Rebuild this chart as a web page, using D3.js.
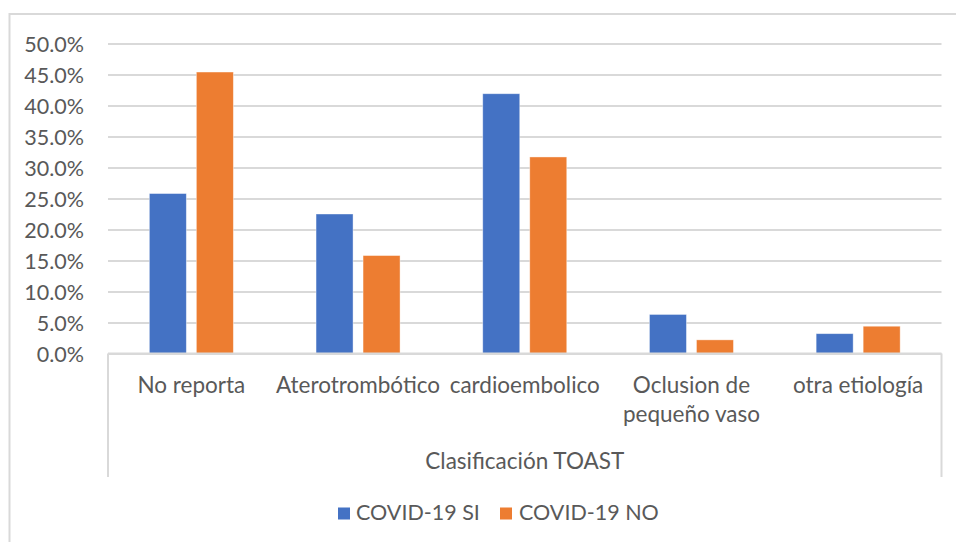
<!DOCTYPE html>
<html>
<head>
<meta charset="utf-8">
<script src="https://cdn.jsdelivr.net/npm/d3@7"></script>
<style>
  html, body { margin: 0; padding: 0; background: #fff; }
  svg { display: block; }
  text { font-family: Lato, "Open Sans", sans-serif; fill: #595959; }
</style>
</head>
<body>
<svg id="chart" width="956" height="542"></svg>
<script>
// Clasificación TOAST por estado COVID-19
const categories = ["No reporta", "Aterotrombótico", "cardioembolico", "Oclusion de pequeño vaso", "otra etiología"];
const categoryLines = [["No reporta"], ["Aterotrombótico"], ["cardioembolico"], ["Oclusion de", "pequeño vaso"], ["otra etiología"]];
const seriesNames = ["COVID-19 SI", "COVID-19 NO"];
const covidSi = [0.258, 0.225, 0.419, 0.063, 0.032];
const covidNo = [0.454, 0.158, 0.317, 0.022, 0.044];
const yTicks = [0, 0.05, 0.10, 0.15, 0.20, 0.25, 0.30, 0.35, 0.40, 0.45, 0.50];
const axisTitle = "Clasificación TOAST";
const colors = ["#4472C4", "#ED7D31"];

const svg = d3.select("#chart");
const tickFont = 21.5;
const labelFont = 22.5;
const plot = { left: 108, right: 941.5, top: 43.5, bottom: 353.5 };

// chart-area frame
svg.append("rect")
  .attr("x", 9.5).attr("y", 14)
  .attr("width", 1000).attr("height", 600)
  .attr("fill", "none").attr("stroke", "#d9d9d9").attr("stroke-width", 2);

const y = d3.scaleLinear().domain([0, 0.5]).range([plot.bottom, plot.top]);
const x0 = d3.scaleBand().domain(categories).range([plot.left, plot.right])
  .paddingInner(0.496).paddingOuter(0.248);
const x1 = d3.scaleBand().domain(seriesNames).range([0, x0.bandwidth()]).paddingInner(0.2128);

// gridlines + y tick labels
const yAxis = d3.axisLeft(y).tickValues(yTicks).tickFormat(d3.format(".1%"))
  .tickSize(-(plot.right - plot.left)).tickPadding(24);
const gy = svg.append("g").attr("transform", `translate(${plot.left},0)`).call(yAxis);
gy.select(".domain").remove();
gy.selectAll(".tick line").attr("stroke", "#d9d9d9").attr("stroke-width", 2);
gy.selectAll(".tick text").attr("fill", "#595959").style("font-size", tickFont + "px")
  .attr("dy", "0.36em");

// bars
const rows = categories.map((c, i) => ({ cat: c, values: [covidSi[i], covidNo[i]] }));
const groups = svg.append("g").selectAll("g").data(rows).join("g")
  .attr("transform", d => `translate(${x0(d.cat)},0)`);
groups.selectAll("rect")
  .data(d => d.values.map((v, j) => ({ name: seriesNames[j], v, j })))
  .join("rect")
  .attr("x", d => x1(d.name))
  .attr("width", x1.bandwidth())
  .attr("y", d => y(d.v))
  .attr("height", d => y(0) - y(d.v))
  .attr("fill", d => colors[d.j])
  .attr("stroke", "#ffffff").attr("stroke-opacity", 0.5).attr("stroke-width", 0.8);

// category axis box (baseline + outer verticals)
const axisG = svg.append("g").attr("stroke", "#d9d9d9").attr("stroke-width", 2).attr("fill", "none");
axisG.append("line").attr("x1", plot.left).attr("x2", plot.right).attr("y1", y(0)).attr("y2", y(0));
axisG.append("line").attr("x1", plot.left).attr("x2", plot.left).attr("y1", y(0)).attr("y2", 477);
axisG.append("line").attr("x1", plot.right).attr("x2", plot.right).attr("y1", y(0)).attr("y2", 477);

// category labels
const labG = svg.append("g");
categories.forEach((c, i) => {
  const cx = x0(c) + x0.bandwidth() / 2;
  const t = labG.append("text").attr("text-anchor", "middle").style("font-size", labelFont + "px");
  categoryLines[i].forEach((line, k) => {
    t.append("tspan").attr("x", cx).attr("y", 392.5 + k * 29.5).text(line);
  });
});

// axis title
svg.append("text").attr("x", (plot.left + plot.right) / 2).attr("y", 468.5)
  .attr("text-anchor", "middle").style("font-size", labelFont + "px").text(axisTitle);

// legend
const legendItems = [{ sx: 338, tx: 356 }, { sx: 500, tx: 519 }];
const lg = svg.append("g");
seriesNames.forEach((s, i) => {
  lg.append("rect").attr("x", legendItems[i].sx).attr("y", 507.5)
    .attr("width", 12).attr("height", 12).attr("fill", colors[i]);
  lg.append("text").attr("x", legendItems[i].tx).attr("y", 519.5)
    .style("font-size", tickFont + "px").text(s);
});
</script>
</body>
</html>
